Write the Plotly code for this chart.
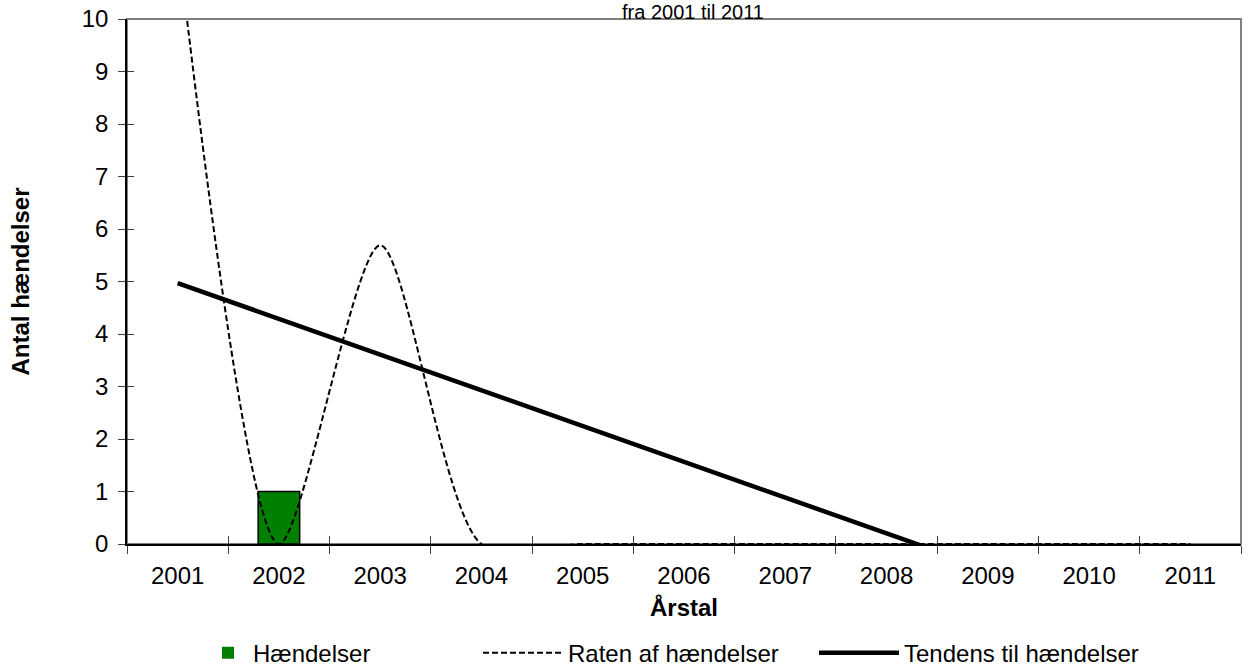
import plotly.graph_objects as go

years = ["2001", "2002", "2003", "2004", "2005", "2006", "2007", "2008", "2009", "2010", "2011"]
haendelser = [0, 1, 0, 0, 0, 0, 0, 0, 0, 0, 0]
raten = [11.5, 0, 5.69, 0, 0, 0, 0, 0, 0, 0, 0]
tendens = [4.97, 4.29, 3.61, 2.93, 2.25, 1.57, 0.89, 0.20, -0.48, -1.16, -1.84]
y_ticks = list(range(0, 11))

FONT = "Liberation Sans, Arial, sans-serif"
FS = 24

fig = go.Figure()
fig.add_trace(go.Bar(
    x=years, y=haendelser, name="Hændelser", width=0.41,
    marker=dict(color="#008000",
                line=dict(color="black", width=[1.5 if v else 0 for v in haendelser])),
    legend="legend",
))
fig.add_trace(go.Scatter(
    x=years, y=raten, name="Raten af hændelser", mode="lines",
    line=dict(color="black", width=2, dash="6px,3px", shape="spline", smoothing=0.75),
    legend="legend2",
))
fig.add_trace(go.Scatter(
    x=years, y=tendens, name="Tendens til hændelser", mode="lines",
    line=dict(color="black", width=4.5),
    legend="legend3",
))
fig.add_trace(go.Scatter(x=[None], y=[None], xaxis="x2", yaxis="y2",
                         showlegend=False, hoverinfo="skip"))

leg_common = dict(orientation="h", yanchor="middle", y=-0.208, xanchor="left",
                  font=dict(family=FONT, size=FS, color="black"),
                  bgcolor="rgba(0,0,0,0)")

fig.update_layout(
    width=1249, height=668,
    margin=dict(l=127, r=8, t=19, b=124, autoexpand=False),
    plot_bgcolor="white", paper_bgcolor="white",
    font=dict(family=FONT, size=FS, color="black"),
    showlegend=True,
    legend=dict(x=(203 - 127) / 1114, itemwidth=40, **leg_common),
    legend2=dict(x=(478 - 127) / 1114, itemwidth=80, **leg_common),
    legend3=dict(x=(814 - 127) / 1114, itemwidth=80, **leg_common),
    xaxis=dict(
        type="category", categoryorder="array", categoryarray=years,
        range=[-0.5, 10.5], tickson="boundaries", automargin=False,
        ticks="outside", ticklen=8, tickwidth=1, tickcolor="#404040",
        showline=True, linecolor="black", linewidth=1.5,
        showgrid=False, zeroline=False,
        tickfont=dict(family=FONT, size=FS), ticklabelstandoff=9,
        title=dict(text="<b>Årstal</b>", font=dict(family=FONT, size=FS), standoff=12),
    ),
    yaxis=dict(
        range=[0, 10], tickvals=y_ticks, automargin=False,
        ticks="outside", ticklen=7, tickwidth=1, tickcolor="#404040",
        showline=True, linecolor="black", linewidth=1.5,
        showgrid=False, zeroline=False,
        tickfont=dict(family=FONT, size=FS), ticklabelstandoff=5,
        title=dict(text="<b>Antal hændelser</b>", font=dict(family=FONT, size=FS), standoff=45),
    ),
    xaxis2=dict(overlaying="x", anchor="y", range=[0, 11], tickvals=list(range(0, 12)),
                ticks="inside", ticklen=8, tickcolor="#404040", showticklabels=False,
                showgrid=False, zeroline=False, showline=False, automargin=False),
    yaxis2=dict(overlaying="y", anchor="x", side="left", range=[0, 10], tickvals=y_ticks,
                ticks="inside", ticklen=7, tickcolor="#404040", showticklabels=False,
                showgrid=False, zeroline=False, showline=False, automargin=False),
    shapes=[dict(type="rect", xref="paper", yref="paper", x0=0, x1=1, y0=0, y1=1,
                 line=dict(color="#808080", width=2), layer="below")],
    annotations=[dict(text="fra 2001 til 2011", xref="paper", yref="paper",
                      x=(693 - 127) / 1114, y=1.0 + 19 / 525, xanchor="center", yanchor="top",
                      yshift=1,
                      showarrow=False, font=dict(family=FONT, size=20, color="black"))],
)

fig.write_html(
    "out.html",
    config={"displayModeBar": False},
    post_script="document.body.style.margin='0';document.body.style.overflow='hidden';",
)
